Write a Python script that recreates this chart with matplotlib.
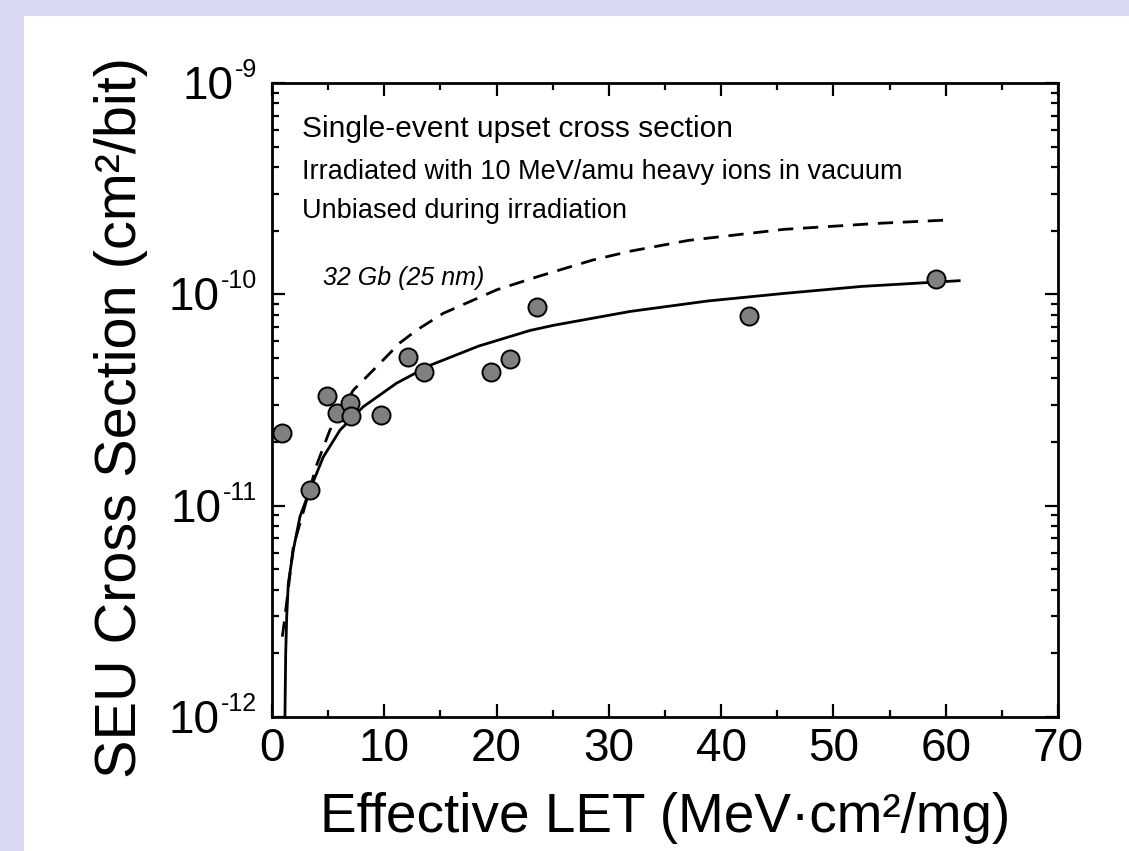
import matplotlib
matplotlib.use("Agg")
import matplotlib.pyplot as plt
from matplotlib.patches import Rectangle
from matplotlib.transforms import offset_copy
from matplotlib.ticker import MultipleLocator, LogLocator, NullFormatter

plt.rcParams["font.family"] = ["Liberation Sans", "DejaVu Sans"]

# Measured SEU cross sections
let_pts = [0.86, 3.4, 4.9, 5.8, 6.95, 7.0, 9.7, 12.1, 13.5, 19.5, 21.2, 23.6, 42.5, 59.1]
seu_pts = [2.2e-11, 1.18e-11, 3.3e-11, 2.75e-11, 3.05e-11, 2.65e-11, 2.68e-11,
           5.07e-11, 4.31e-11, 4.29e-11, 4.96e-11, 8.7e-11, 7.9e-11, 1.18e-10]

# Weibull fit (solid)
fit_let = [1.10, 1.16, 1.22, 1.31, 1.45, 1.90, 2.49, 3.38, 4.57, 6.06, 8.13, 11.1,
           14.1, 18.4, 23.0, 25.1, 31.9, 38.8, 45.6, 52.5, 61.2]
fit_seu = [7e-13, 1.08e-12, 2.0e-12, 2.98e-12, 4.28e-12, 6.17e-12, 8.87e-12, 1.19e-11,
           1.70e-11, 2.28e-11, 2.94e-11, 3.8e-11, 4.62e-11, 5.69e-11, 6.75e-11, 7.14e-11,
           8.3e-11, 9.3e-11, 1.01e-10, 1.09e-10, 1.16e-10]

# 32 Gb (25 nm) reference curve (dashed)
ref_let = [0.92, 1.16, 1.90, 3.98, 5.16, 7.24, 9.02, 11.4, 12.9, 15.25, 20.0, 23.6,
           28.5, 31.9, 37.1, 45.6, 54.2, 60.4]
ref_seu = [2.4e-12, 3.0e-12, 6.4e-12, 1.56e-11, 2.28e-11, 3.52e-11, 4.38e-11, 5.9e-11,
           6.78e-11, 8.13e-11, 1.05e-10, 1.21e-10, 1.45e-10, 1.60e-10, 1.80e-10,
           2.03e-10, 2.17e-10, 2.25e-10]

y_ticks = [1e-12, 1e-11, 1e-10, 1e-9]
y_exps = ["-12", "-11", "-10", "-9"]

fig = plt.figure(figsize=(11.29, 8.51), dpi=100, facecolor="white")

# lavender frame on left and top
lav = "#d9d9f3"
fig.patches.append(Rectangle((0, 0), 24 / 1129, 1, transform=fig.transFigure,
                             facecolor=lav, edgecolor="none", zorder=0))
fig.patches.append(Rectangle((0, 1 - 16 / 851), 1, 16 / 851, transform=fig.transFigure,
                             facecolor=lav, edgecolor="none", zorder=0))

ax = fig.add_axes([272 / 1129, 1 - 717 / 851, 786 / 1129, 634 / 851])

ax.plot(ref_let, ref_seu, color="black", lw=2.0, dashes=(5.5, 3.5), zorder=2)
ax.plot(fit_let, fit_seu, color="black", lw=2.0, zorder=2)
ax.plot(let_pts, seu_pts, "o", ms=13, mfc="#808080", mec="black", mew=1.4, zorder=3)

ax.set_yscale("log")
ax.set_xlim(0, 70)
ax.set_ylim(1e-12, 1e-9)

ax.xaxis.set_major_locator(MultipleLocator(10))
ax.xaxis.set_minor_locator(MultipleLocator(5))
ax.set_yticks(y_ticks)
ax.yaxis.set_minor_locator(LogLocator(base=10, subs=range(2, 10), numticks=20))
ax.yaxis.set_minor_formatter(NullFormatter())

ax.tick_params(which="both", direction="in", top=True, right=True, width=1.6)
ax.tick_params(which="major", length=9.5, labelsize=33, pad=7)
ax.tick_params(which="minor", length=5)
ax.tick_params(axis="y", labelleft=False)
for s in ax.spines.values():
    s.set_linewidth(2.0)

# y tick labels as 10 with a small raised exponent
ytrans = ax.get_yaxis_transform()
for t, e in zip(y_ticks, y_exps):
    ex = ax.text(-15 / 786, t, e, fontsize=18, ha="right", va="baseline",
                 transform=offset_copy(ytrans, fig=fig, y=6, units="dots"))
    ax.annotate("10", xy=(0, t), xycoords=(ex, ytrans), xytext=(-1, -16),
                textcoords="offset pixels", fontsize=33, ha="right", va="baseline")

ax.set_xlabel("Effective LET (MeV·cm²/mg)", fontsize=39.5)
ax.xaxis.set_label_coords(0.5, -0.118)
ax.set_ylabel("SEU Cross Section (cm²/bit)", fontsize=41.5)
ax.yaxis.set_label_coords(-0.158, 0.472)

ax.text(0.038, 0.9148, "Single-event upset cross section", transform=ax.transAxes,
        fontsize=21.5, va="baseline")
ax.text(0.038, 0.8486, "Irradiated with 10 MeV/amu heavy ions in vacuum",
        transform=ax.transAxes, fontsize=19.5, va="baseline")
ax.text(0.038, 0.787, "Unbiased during irradiation", transform=ax.transAxes,
        fontsize=19.5, va="baseline")
ax.text(0.0645, 0.6814, "32 Gb (25 nm)", transform=ax.transAxes, fontsize=18,
        style="italic", va="baseline")

fig.savefig("out.png", dpi=100)
